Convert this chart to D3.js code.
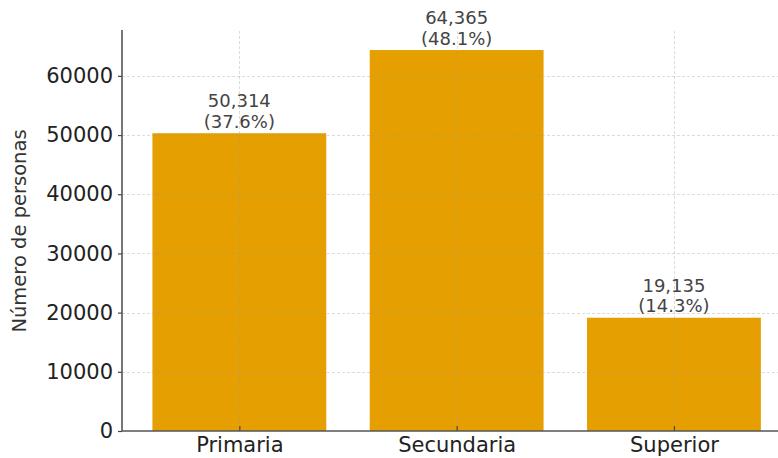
<!DOCTYPE html>
<html>
<head>
<meta charset="utf-8">
<script src="https://cdn.jsdelivr.net/npm/d3@7/dist/d3.min.js"></script>
<style>
  html, body { margin: 0; padding: 0; background: #fff; }
  svg { display: block; }
  text { font-family: "DejaVu Sans", sans-serif; }
</style>
</head>
<body>
<div id="chart"></div>
<script>
// Education level counts
const categories = ["Primaria", "Secundaria", "Superior"];
const values = [50314, 64365, 19135];
const percents = ["37.6%", "48.1%", "14.3%"];
const yTicks = [0, 10000, 20000, 30000, 40000, 50000, 60000];

const W = 778, H = 458;
const plotLeft = 122, plotBottom = 431, plotTop = 31;

const svg = d3.select("#chart").append("svg")
  .attr("width", W).attr("height", H);

const x = d3.scaleLinear().domain([-0.54, 2.54]).range([plotLeft, 791.3]);
const y = d3.scaleLinear().domain([0, d3.max(values) * 1.05]).range([plotBottom, plotTop]);

const barW = 0.8;
const orange = "#E69F00";

// bars
svg.append("g").selectAll("rect")
  .data(values)
  .join("rect")
  .attr("x", (d, i) => x(i - barW / 2))
  .attr("width", (d, i) => x(i + barW / 2) - x(i - barW / 2))
  .attr("y", d => y(d))
  .attr("height", d => y(0) - y(d))
  .attr("fill", orange);

// dashed grid
const grid = svg.append("g")
  .attr("stroke", "#9a9a9a")
  .attr("stroke-opacity", 0.35)
  .attr("stroke-width", 1)
  .attr("stroke-dasharray", "3,2");
grid.selectAll("line.h")
  .data(yTicks.slice(1))
  .join("line")
  .attr("class", "h")
  .attr("x1", plotLeft).attr("x2", W)
  .attr("y1", d => Math.round(y(d)) + 0.5)
  .attr("y2", d => Math.round(y(d)) + 0.5);
grid.selectAll("line.v")
  .data(categories)
  .join("line")
  .attr("class", "v")
  .attr("x1", (d, i) => Math.round(x(i)) + 0.5)
  .attr("x2", (d, i) => Math.round(x(i)) + 0.5)
  .attr("y1", plotTop).attr("y2", plotBottom);

// y axis
const yAxis = d3.axisLeft(y).tickValues(yTicks).tickFormat(d3.format("d"))
  .tickSize(4).tickPadding(5);
const gy = svg.append("g").attr("transform", `translate(${plotLeft},0)`).call(yAxis);
gy.select(".domain").remove();
gy.selectAll(".tick line").attr("stroke", "#444").attr("stroke-width", 1.2);
gy.selectAll(".tick text")
  .attr("font-family", "DejaVu Sans").attr("font-size", 21).attr("fill", "#222");

// x axis (ticks pointing inward)
const xAxis = d3.axisBottom(x).tickValues([0, 1, 2])
  .tickFormat(i => categories[i]).tickSize(-5).tickPadding(8);
const gx = svg.append("g").attr("transform", `translate(0,${plotBottom})`).call(xAxis);
gx.select(".domain").remove();
gx.selectAll(".tick line").attr("stroke", "#444").attr("stroke-width", 1.2);
gx.selectAll(".tick text")
  .attr("font-family", "DejaVu Sans").attr("font-size", 21).attr("fill", "#222")
  .attr("y", 20.5).attr("dy", 0);

// spines
svg.append("line")
  .attr("x1", plotLeft).attr("x2", plotLeft).attr("y1", plotTop - 1).attr("y2", plotBottom)
  .attr("stroke", "#555").attr("stroke-width", 1.6);
svg.append("line")
  .attr("x1", plotLeft).attr("x2", W).attr("y1", plotBottom).attr("y2", plotBottom)
  .attr("stroke", "#555").attr("stroke-width", 1.6);

// value labels
const fmt = d3.format(",");
const labels = svg.append("g")
  .attr("font-size", 18).attr("fill", "#444").attr("text-anchor", "middle");
labels.selectAll("text.v")
  .data(values)
  .join("text")
  .attr("class", "v")
  .attr("x", (d, i) => x(i))
  .attr("y", d => y(d) - 26)
  .text(d => fmt(d));
labels.selectAll("text.p")
  .data(values)
  .join("text")
  .attr("class", "p")
  .attr("x", (d, i) => x(i))
  .attr("y", d => y(d) - 5.5)
  .text((d, i) => `(${percents[i]})`);

// y axis title
svg.append("text")
  .attr("transform", `translate(26,${(plotTop + plotBottom) / 2}) rotate(-90)`)
  .attr("text-anchor", "middle")
  .attr("font-size", 19.5).attr("fill", "#333")
  .text("Número de personas");
</script>
</body>
</html>
